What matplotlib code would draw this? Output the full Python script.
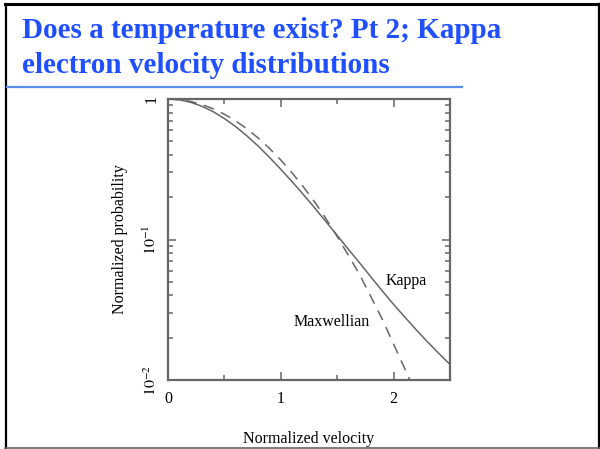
import numpy as np
import matplotlib
matplotlib.use('Agg')
import matplotlib.pyplot as plt
from matplotlib.lines import Line2D
from matplotlib.ticker import LogLocator, FixedLocator, NullFormatter

# values
velocity_max = [0.0, 0.1, 0.2, 0.3, 0.4, 0.5, 0.6, 0.7, 0.8, 0.9, 1.0, 1.1,
                1.2, 1.3, 1.4, 1.5, 1.6, 1.7, 1.8, 1.9, 2.0, 2.1, 2.2]
maxwellian = [1.000, 0.990, 0.961, 0.914, 0.852, 0.779, 0.698, 0.613, 0.527,
              0.445, 0.368, 0.298, 0.237, 0.185, 0.141, 0.105, 0.077, 0.056,
              0.039, 0.027, 0.018, 0.012, 0.0079]
velocity_kap = [0.0, 0.1, 0.2, 0.3, 0.4, 0.5, 0.6, 0.7, 0.8, 0.9, 1.0, 1.1,
                1.2, 1.3, 1.4, 1.5, 1.6, 1.7, 1.8, 1.9, 2.0, 2.1, 2.2, 2.3,
                2.4, 2.5]
kappa = [1.000, 0.987, 0.948, 0.888, 0.813, 0.726, 0.636, 0.546, 0.462, 0.384,
         0.316, 0.258, 0.209, 0.168, 0.134, 0.107, 0.085, 0.068, 0.054, 0.043,
         0.0345, 0.0280, 0.0228, 0.0187, 0.0155, 0.0129]

title_lines = ["Does a temperature exist? Pt 2; Kappa",
               "electron velocity distributions"]

plt.rcParams['font.family'] = ['Liberation Serif', 'DejaVu Serif']
plt.rcParams['mathtext.fontset'] = 'stix'

fig = plt.figure(figsize=(6, 4.49), dpi=100)
fig.patch.set_facecolor('white')

# slide frame
fig.add_artist(Line2D([5.5/600, 5.5/600], [0, 1 - 4/449], color='black', lw=1.6))
fig.add_artist(Line2D([598.5/600, 598.5/600], [0, 1 - 4/449], color='black', lw=1.6))
fig.add_artist(Line2D([5/600, 600/600], [1 - 3.5/449, 1 - 3.5/449], color='black', lw=2.2))
fig.add_artist(Line2D([5/600, 600/600], [1 - 447.5/449, 1 - 447.5/449], color='#666666', lw=1.2))

# title + underline
for line, ybase in zip(title_lines, [38, 73]):
    fig.text(22/600, 1 - ybase/449, line, color='#1f4fff', fontsize=21,
             fontweight='bold', ha='left', va='baseline')
fig.add_artist(Line2D([7/600, 462/600], [1 - 87/449, 1 - 87/449],
                      color='#5a8fe8', lw=1.6))

ax = fig.add_axes([168/600, 1 - 380/449, 282/600, 281/449])
gray = '#666666'
ax.plot(velocity_kap, kappa, color=gray, lw=1.1)
ax.plot(velocity_max, maxwellian, color=gray, lw=1.1, dashes=(7, 5))
ax.set_yscale('log')
ax.set_xlim(0, 2.5)
ax.set_ylim(0.01, 1)

ax.set_xticks([0, 1, 2])
ax.set_xticklabels(['0', '1', '2'])
ax.xaxis.set_minor_locator(FixedLocator([0.5, 1.5]))
ax.yaxis.set_major_locator(FixedLocator([0.01, 0.1, 1]))
ax.set_yticklabels([r'$10^{-2}$', r'$10^{-1}$', '1'], rotation=90, va='center')
ax.yaxis.set_minor_locator(LogLocator(base=10, subs=np.arange(2, 10)))
ax.yaxis.set_minor_formatter(NullFormatter())

ax.tick_params(which='both', direction='in', top=True, right=True,
               color=gray, labelsize=11.5, width=1.1)
ax.tick_params(which='major', length=6)
ax.tick_params(which='minor', length=3.5)
ax.tick_params(axis='x', pad=8)
ax.tick_params(axis='y', pad=6)
for s in ax.spines.values():
    s.set_color(gray)
    s.set_linewidth(1.6)

ax.set_xlabel('Normalized velocity', fontsize=11.5, labelpad=17)
ax.set_ylabel('Normalized probability', fontsize=11.5, labelpad=10)

ax.text(1.93, 0.051, 'Kappa', fontsize=11.5, ha='left', va='center')
ax.text(1.11, 0.0257, 'Maxwellian', fontsize=11.5, ha='left', va='center')

fig.savefig('out.png', dpi=100)
